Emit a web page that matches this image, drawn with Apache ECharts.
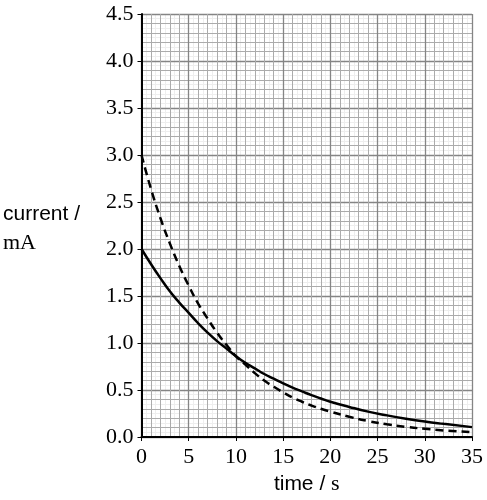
<!DOCTYPE html>
<html>
<head>
<meta charset="utf-8">
<script src="https://cdn.jsdelivr.net/npm/echarts@6/dist/echarts.min.js"></script>
<style>html,body{margin:0;padding:0;background:#fff;}#c{width:487px;height:500px;}</style>
</head>
<body>
<div id="c"></div>
<script>
const times = [0,1,2,3,4,5,6,7,8,9,10,11,12,13,14,15,16,17,18,19,20,22,24,26,28,30,32,35];
const solidCurrent = [2.00,1.84,1.69,1.55,1.43,1.32,1.21,1.11,1.02,0.94,0.86,0.79,0.73,0.67,0.62,0.57,0.525,0.485,0.445,0.41,0.375,0.32,0.27,0.23,0.195,0.165,0.14,0.105];
const dashedCurrent = [3.00,2.64,2.33,2.06,1.82,1.61,1.42,1.26,1.11,0.98,0.86,0.77,0.68,0.60,0.535,0.475,0.42,0.375,0.335,0.30,0.27,0.215,0.17,0.135,0.108,0.087,0.07,0.052];
const xTicks = [0,5,10,15,20,25,30,35];
const yTicks = ['0.0','0.5','1.0','1.5','2.0','2.5','3.0','3.5','4.0','4.5'];

const chart = echarts.init(document.getElementById('c'), null, {renderer:'canvas'});
const serif = '"Liberation Serif","DejaVu Serif",serif';
const sans = '"Liberation Sans",Arial,sans-serif';
chart.setOption({
  animation:false,
  backgroundColor:'#fff',
  grid:{left:141.5, right:15, top:14, bottom:61.7, containLabel:false},
  xAxis:[{
    type:'value', min:xTicks[0], max:xTicks[xTicks.length-1], interval:5, z:2,
    axisLine:{show:true, onZero:false, lineStyle:{color:'#000', width:2}},
    axisTick:{show:true, length:4, lineStyle:{color:'#000', width:1}},
    axisLabel:{margin:9, color:'#000', fontFamily:serif, fontSize:22},
    splitLine:{show:true, lineStyle:{color:'#858585', width:1.3}},
    minorTick:{show:false, splitNumber:5},
    minorSplitLine:{show:true, lineStyle:{color:'#ababab', width:1}},
    name:'{a|time / }{b|s}', nameLocation:'middle', nameGap:36,
    nameTextStyle:{rich:{a:{fontFamily:sans, fontSize:21, color:'#000'}, b:{fontFamily:serif, fontSize:22, color:'#000'}}}
  },{
    type:'value', min:0, max:35, interval:0.5, z:0,
    axisLine:{show:false}, axisTick:{show:false}, axisLabel:{show:false},
    splitLine:{show:true, lineStyle:{color:'#eeeeee', width:1}}
  }],
  yAxis:[{
    type:'value', min:0, max:4.5, interval:0.5, z:2,
    axisLine:{show:true, onZero:false, lineStyle:{color:'#000', width:2}},
    axisTick:{show:true, length:4, lineStyle:{color:'#000', width:1}},
    axisLabel:{margin:8, color:'#000', fontFamily:serif, fontSize:22,
      formatter:function(v){ const i = Math.round(v/0.5); return yTicks[i] !== undefined ? yTicks[i] : v.toFixed(1); }},
    splitLine:{show:true, lineStyle:{color:'#858585', width:1.3}},
    minorTick:{show:false, splitNumber:5},
    minorSplitLine:{show:true, lineStyle:{color:'#ababab', width:1}},
    name:'{a|current /}\n{b|mA}', nameLocation:'middle', nameRotate:0, nameGap:138.5,
    nameTextStyle:{align:'left', verticalAlign:'middle', lineHeight:29, padding:[6,0,0,0],
      rich:{a:{fontFamily:sans, fontSize:21, color:'#000', lineHeight:29}, b:{fontFamily:serif, fontSize:22, color:'#000', lineHeight:29}}}
  },{
    type:'value', min:0, max:4.5, interval:0.05, z:0,
    axisLine:{show:false}, axisTick:{show:false}, axisLabel:{show:false},
    splitLine:{show:true, lineStyle:{color:'#eeeeee', width:1}}
  }],
  series:[{
    type:'line', xAxisIndex:0, yAxisIndex:0, smooth:true, symbol:'none', z:5,
    data: times.map((t,i)=>[t, solidCurrent[i]]),
    lineStyle:{color:'#000', width:2.5}
  },{
    type:'line', xAxisIndex:0, yAxisIndex:0, smooth:true, symbol:'none', z:5,
    data: times.map((t,i)=>[t, dashedCurrent[i]]),
    lineStyle:{color:'#000', width:2.5, type:[8,5]}
  }]
});
</script>
</body>
</html>
